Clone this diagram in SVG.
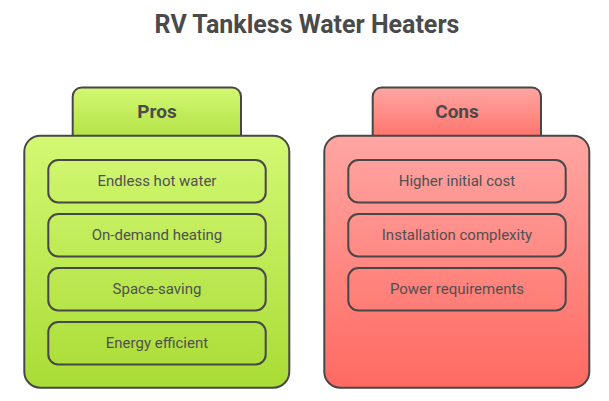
<svg xmlns="http://www.w3.org/2000/svg" width="609" height="401" viewBox="0 0 609 401">
<defs>
<linearGradient id="gG" x1="0" y1="0" x2="0" y2="1"><stop offset="0" stop-color="#d3f873"/><stop offset="1" stop-color="#a9dc36"/></linearGradient>
<linearGradient id="gR" x1="0" y1="0" x2="0" y2="1"><stop offset="0" stop-color="#ffa6a3"/><stop offset="1" stop-color="#ff6a62"/></linearGradient>
<linearGradient id="tG" x1="0" y1="0" x2="0" y2="1"><stop offset="0" stop-color="#d3f873"/><stop offset="1" stop-color="#acdd3c"/></linearGradient>
<linearGradient id="tR" x1="0" y1="0" x2="0" y2="1"><stop offset="0" stop-color="#ffa6a3"/><stop offset="1" stop-color="#ff6a62"/></linearGradient>
</defs>
<style>
.b{stroke:#474747;stroke-width:2}
.i{fill:none;stroke:#474747;stroke-width:2}
.t{font-family:Roboto,"Liberation Sans",sans-serif;fill:#4a4a4a;text-anchor:middle}
.h{font-size:19px;font-weight:bold}
.l{font-size:15px;fill:#505050}
</style>
<text class="t" x="307" y="33" font-size="25" font-weight="bold">RV Tankless Water Heaters</text>
<g id="pros">
<rect class="b" x="72.7" y="87.5" width="168.3" height="60" rx="9" fill="url(#tG)"/>
<rect class="b" x="24.3" y="135.7" width="265" height="252" rx="16" fill="url(#gG)"/>
<text class="t h" x="157" y="118">Pros</text>
</g>
<g id="pros-1"><rect class="i" x="48.3" y="160" width="217.4" height="42.4" rx="10"/><text class="t l" x="157" y="186">Endless hot water</text></g>
<g id="pros-2"><rect class="i" x="48.3" y="214" width="217.4" height="42.4" rx="10"/><text class="t l" x="157" y="240">On-demand heating</text></g>
<g id="pros-3"><rect class="i" x="48.3" y="268" width="217.4" height="42.4" rx="10"/><text class="t l" x="157" y="294">Space-saving</text></g>
<g id="pros-4"><rect class="i" x="48.3" y="322" width="217.4" height="42.4" rx="10"/><text class="t l" x="157" y="348">Energy efficient</text></g>
<g id="cons">
<rect class="b" x="372.7" y="87.5" width="168.3" height="60" rx="9" fill="url(#tR)"/>
<rect class="b" x="324.3" y="135.7" width="265" height="252" rx="16" fill="url(#gR)"/>
<text class="t h" x="457" y="118">Cons</text>
</g>
<g id="cons-1"><rect class="i" x="348.3" y="160" width="217.4" height="42.4" rx="10"/><text class="t l" x="457" y="186">Higher initial cost</text></g>
<g id="cons-2"><rect class="i" x="348.3" y="214" width="217.4" height="42.4" rx="10"/><text class="t l" x="457" y="240">Installation complexity</text></g>
<g id="cons-3"><rect class="i" x="348.3" y="268" width="217.4" height="42.4" rx="10"/><text class="t l" x="457" y="294">Power requirements</text></g>
<g id="connectors"></g>
</svg>
